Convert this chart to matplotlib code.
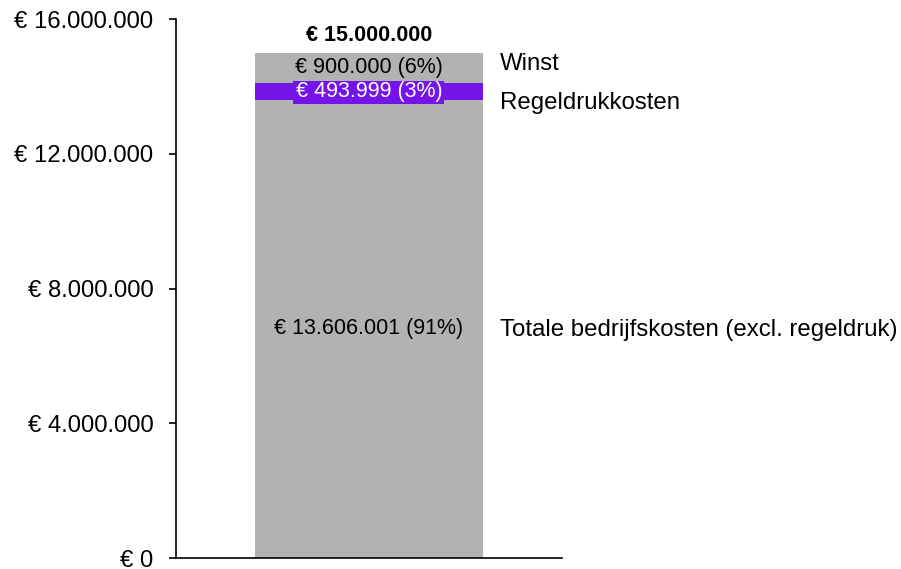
import matplotlib.pyplot as plt
from matplotlib.ticker import FuncFormatter

plt.rcParams['font.family'] = ['Liberation Sans', 'DejaVu Sans']

segments = ['Totale bedrijfskosten (excl. regeldruk)', 'Regeldrukkosten', 'Winst']
values = [13606001, 493999, 900000]
pct = [91, 3, 6]
colors = ['#B2B2B2', '#7514E8', '#B2B2B2']
label_colors = ['black', 'white', 'black']
side_offsets = [-1, -12, 4]  # px shift of side labels

def euro(v):
    return '€ ' + f'{int(v):,}'.replace(',', '.')

fig = plt.figure(figsize=(9.01, 5.69), dpi=100)
ax = fig.add_axes([0.195, 0.0193, 0.429, 0.9473])

bottom = 0
for i in range(len(values)):
    ax.bar(0, values[i], bottom=bottom, width=0.59, color=colors[i])
    mid = bottom + values[i] / 2
    box = dict(boxstyle='square,pad=0.1', fc=colors[i], ec='none')
    ax.text(0, mid, f'{euro(values[i])} ({pct[i]}%)', ha='center', va='center',
            fontsize=15.5, color=label_colors[i], bbox=box)
    ax.annotate(segments[i], (0.34, mid), xytext=(0, side_offsets[i]),
                textcoords='offset pixels', ha='left', va='center',
                fontsize=17.3, annotation_clip=False)
    bottom += values[i]

ax.text(0, bottom + 200000, euro(sum(values)), ha='center', va='bottom',
        fontsize=15.5, fontweight='bold')

ax.set_xlim(-0.5, 0.5)
ax.set_ylim(0, 16000000)
ax.set_yticks([0, 4000000, 8000000, 12000000, 16000000])
ax.yaxis.set_major_formatter(FuncFormatter(lambda v, p: euro(v)))
ax.set_xticks([])
ax.spines['top'].set_visible(False)
ax.spines['right'].set_visible(False)
ax.spines['left'].set_linewidth(1.2)
ax.spines['bottom'].set_linewidth(1.2)
ax.tick_params(axis='y', labelsize=17.2, length=5, width=1.2, pad=11)

plt.savefig('out.png', dpi=100)
